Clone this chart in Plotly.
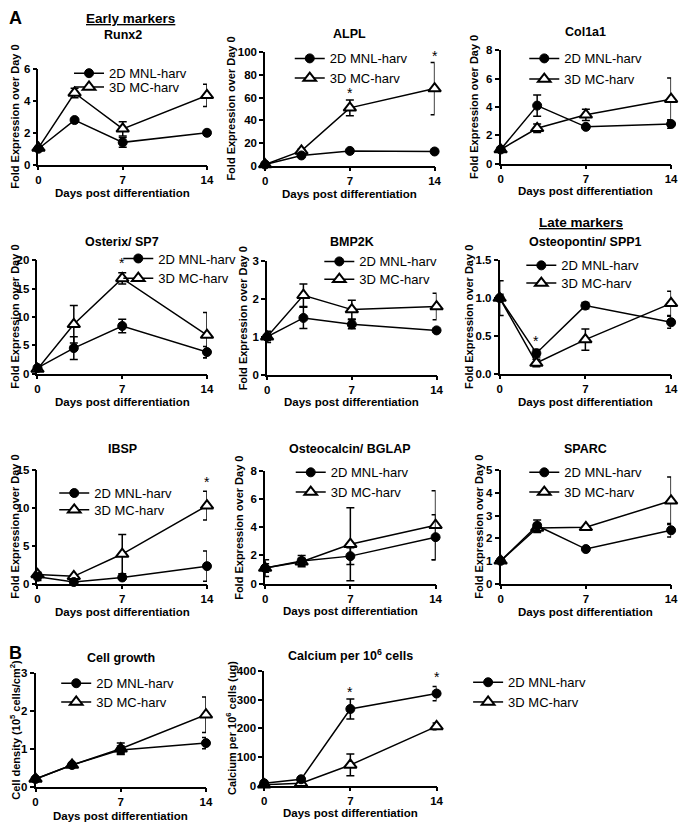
import plotly.graph_objects as go

W, H = 685, 829
FONT = "Liberation Sans, Arial, sans-serif"

days = [0, 3, 7, 14]
series_names = ["2D MNL-harv", "3D MC-harv"]

# ---- data (mean, error) ----
runx2_2d = [1.0, 2.8, 1.4, 2.0]
runx2_2d_err = [0.1, 0.08, 0.3, 0.08]
runx2_3d = [1.05, 4.5, 2.25, 4.35]
runx2_3d_err = [0.1, 0.3, 0.45, 0.7]

alpl_2d = [1, 9, 13, 12.5]
alpl_2d_err = [0.5, 1.0, 1.0, 1.0]
alpl_3d = [1, 13, 51, 68]
alpl_3d_err = [0.5, 1.5, 7, 23]

col1a1_2d = [1.0, 4.1, 2.6, 2.8]
col1a1_2d_err = [0.1, 0.75, 0.1, 0.3]
col1a1_3d = [1.0, 2.5, 3.45, 4.55]
col1a1_3d_err = [0.1, 0.3, 0.4, 1.5]

sp7_2d = [1.0, 4.5, 8.4, 3.8]
sp7_2d_err = [0.3, 2.0, 1.2, 1.0]
sp7_3d = [0.8, 8.7, 16.8, 6.8]
sp7_3d_err = [0.3, 3.3, 1.0, 4.0]

bmp2k_2d = [1.0, 1.5, 1.33, 1.17]
bmp2k_2d_err = [0.1, 0.28, 0.12, 0.03]
bmp2k_3d = [1.0, 2.1, 1.72, 1.8]
bmp2k_3d_err = [0.15, 0.3, 0.25, 0.35]

spp1_2d = [1.0, 0.27, 0.9, 0.68]
spp1_2d_err = [0.23, 0.05, 0.04, 0.08]
spp1_3d = [1.0, 0.14, 0.45, 0.93]
spp1_3d_err = [0.05, 0.05, 0.14, 0.16]

ibsp_2d = [0.9, 0.2, 0.8, 2.3]
ibsp_2d_err = [0.5, 0.1, 0.2, 2.0]
ibsp_3d = [1.2, 0.95, 3.9, 10.3]
ibsp_3d_err = [0.3, 0.1, 2.6, 1.9]

bglap_2d = [1.1, 1.6, 1.95, 3.3]
bglap_2d_err = [0.6, 0.4, 0.6, 1.6]
bglap_3d = [1.1, 1.55, 2.8, 4.15]
bglap_3d_err = [0.3, 0.25, 2.6, 2.45]

sparc_2d = [1.0, 2.55, 1.52, 2.35]
sparc_2d_err = [0.05, 0.25, 0.05, 0.3]
sparc_3d = [1.0, 2.45, 2.48, 3.65]
sparc_3d_err = [0.05, 0.2, 0.05, 1.05]

growth_2d = [0.2, 0.57, 0.97, 1.15]
growth_2d_err = [0.03, 0.03, 0.1, 0.15]
growth_3d = [0.2, 0.57, 1.0, 1.9]
growth_3d_err = [0.03, 0.03, 0.15, 0.47]

calcium_2d = [8, 22, 268, 322]
calcium_2d_err = [3, 5, 35, 25]
calcium_3d = [3, 8, 72, 207]
calcium_3d_err = [2, 3, 38, 12]

titles = ["Runx2", "ALPL", "Col1a1", "Osterix/ SP7", "BMP2K", "Osteopontin/ SPP1",
          "IBSP", "Osteocalcin/ BGLAP", "SPARC", "Cell growth",
          "Calcium per 10<sup>6</sup> cells"]
fold_label = "Fold Expression over Day 0"
ytitles = [fold_label] * 9 + ["Cell density (10<sup>5</sup> cells/cm<sup>2</sup>)",
                              "Calcium per 10<sup>6</sup> cells (ug)"]
xtitle = "Days post differentiation"

y_ranges = [6, 100, 8, 20, 3, 1.5, 15, 8, 5, 3, 400]
y_dticks = [2, 20, 2, 5, 1, 0.5, 5, 2, 1, 1, 100]
y_formats = ["d", "d", "d", "d", "d", ".1f", "d", "d", "d", "d", "d"]

data2d = [(runx2_2d, runx2_2d_err), (alpl_2d, alpl_2d_err), (col1a1_2d, col1a1_2d_err),
          (sp7_2d, sp7_2d_err), (bmp2k_2d, bmp2k_2d_err), (spp1_2d, spp1_2d_err),
          (ibsp_2d, ibsp_2d_err), (bglap_2d, bglap_2d_err), (sparc_2d, sparc_2d_err),
          (growth_2d, growth_2d_err), (calcium_2d, calcium_2d_err)]
data3d = [(runx2_3d, runx2_3d_err), (alpl_3d, alpl_3d_err), (col1a1_3d, col1a1_3d_err),
          (sp7_3d, sp7_3d_err), (bmp2k_3d, bmp2k_3d_err), (spp1_3d, spp1_3d_err),
          (ibsp_3d, ibsp_3d_err), (bglap_3d, bglap_3d_err), (sparc_3d, sparc_3d_err),
          (growth_3d, growth_3d_err), (calcium_3d, calcium_3d_err)]

# significance markers: (panel index, day, y value)
stars = [(0, 14, 6.5), (1, 7, 64), (1, 14, 97), (3, 7, 19.5), (5, 3, 0.43),
         (6, 14, 13.4), (10, 7, 328), (10, 14, 379)]

# ---- layout geometry in pixels ----
# (x_left, x_right, y_top, y_bottom)
boxes = [(36, 207, 64, 161), (266, 438, 47, 162), (505, 678, 45, 160),
         (35, 207, 258, 373), (268, 440, 259, 374), (504, 678, 258, 373),
         (35, 207, 471, 586), (266, 439, 472, 586), (505, 678, 471, 586),
         (33, 206, 677, 792), (265, 440, 675, 791)]
title_y = [29, 28, 26, 239, 239, 239, 450, 450, 450, 662, 659]
xtitle_y = [190, 191, 188, 402, 402, 402, 615, 614, 615, 822, 819]
ytitle_x = [12, 231, 478, 12, 243, 473, 12, 240, 483, 12, 232]
# legend rows: marker centre x, row centre y (2D row, 3D row)
legend_pos = [(88, 67, 81), (312, 52, 72), (550, 52, 73), (138, 255, 275),
              (342, 258, 276), (547, 262, 280), (73, 493, 510), (313, 472, 492),
              (550, 472, 492), (75, 686, 705), (493, 685, 705)]


def px(x):
    return x / W


def py(y):
    return 1 - y / H


fig = go.Figure()
layout = dict(width=W, height=H, margin=dict(l=0, r=0, t=0, b=0),
              paper_bgcolor="white", plot_bgcolor="white",
              font=dict(family=FONT, color="black"), showlegend=True)
annotations = []
legend_count = 0


def add_legend(mx, my):
    global legend_count
    legend_count += 1
    name = "legend" if legend_count == 1 else "legend%d" % legend_count
    layout[name] = dict(x=px(mx - 21), y=py(my - 14), xanchor="left", yanchor="top",
                        bgcolor="rgba(0,0,0,0)", borderwidth=0, itemwidth=30,
                        tracegroupgap=0,
                        font=dict(family=FONT, size=13, color="black"))
    return name


for i in range(11):
    n = i + 1
    sfx = "" if n == 1 else str(n)
    x0, x1, yt, yb = boxes[i]
    ax = dict(domain=[px(x0), px(x1)], range=[0, 14], tickvals=[0, 7, 14],
              showline=True, linecolor="black", linewidth=1.6, ticks="outside",
              ticklen=4, tickwidth=1.5, tickcolor="black", showgrid=False,
              zeroline=False, anchor="y" + sfx,
              tickfont=dict(family=FONT, size=11.5, color="black", weight="bold"))
    ay = dict(domain=[py(yb), py(yt)], range=[0, y_ranges[i]], dtick=y_dticks[i],
              tick0=0, tickformat=y_formats[i],
              showline=True, linecolor="black", linewidth=1.6, ticks="outside",
              ticklen=4, tickwidth=1.5, tickcolor="black", showgrid=False,
              zeroline=False, anchor="x" + sfx,
              tickfont=dict(family=FONT, size=11.5, color="black", weight="bold"))
    layout["xaxis" + sfx] = ax
    layout["yaxis" + sfx] = ay
    mx, my2, my3 = legend_pos[i]
    lg2 = add_legend(mx, my2)
    lg3 = add_legend(mx, my3)

    v3, e3 = data3d[i]
    fig.add_trace(go.Scatter(
        x=days, y=v3, mode="lines+markers", name=series_names[1],
        xaxis="x" + sfx, yaxis="y" + sfx, legend=lg3,
        cliponaxis=False,
        line=dict(color="black", width=1.5),
        marker=dict(symbol="triangle-up", size=11, color="white",
                    line=dict(color="black", width=2)),
        error_y=dict(type="data", array=e3, color="black", thickness=1.5, width=4)))
    v2, e2 = data2d[i]
    fig.add_trace(go.Scatter(
        x=days, y=v2, mode="lines+markers", name=series_names[0],
        xaxis="x" + sfx, yaxis="y" + sfx, legend=lg2,
        cliponaxis=False,
        line=dict(color="black", width=1.5),
        marker=dict(symbol="circle", size=9, color="black",
                    line=dict(color="black", width=1)),
        error_y=dict(type="data", array=e2, color="black", thickness=1.5, width=4)))

    cx = (x0 + x1) / 2
    annotations.append(dict(text="<b>%s</b>" % titles[i], x=px(cx), y=py(title_y[i]),
                            xref="paper", yref="paper", showarrow=False,
                            xanchor="center", yanchor="middle",
                            font=dict(family=FONT, size=12.5, color="black")))
    annotations.append(dict(text="<b>%s</b>" % xtitle, x=px(cx), y=py(xtitle_y[i]),
                            xref="paper", yref="paper", showarrow=False,
                            xanchor="center", yanchor="middle",
                            font=dict(family=FONT, size=11.5, color="black")))
    annotations.append(dict(text="<b>%s</b>" % ytitles[i], x=px(ytitle_x[i]),
                            y=py((yt + yb) / 2), xref="paper", yref="paper",
                            showarrow=False, textangle=-90,
                            xanchor="center", yanchor="middle",
                            font=dict(family=FONT, size=11, color="black")))

for (pi, d, yv) in stars:
    sfx = "" if pi == 0 else str(pi + 1)
    annotations.append(dict(text="*", x=d, y=yv, xref="x" + sfx, yref="y" + sfx,
                            showarrow=False, xanchor="center", yanchor="middle",
                            font=dict(family=FONT, size=14, color="black")))

# section labels
annotations += [
    dict(text="<b>A</b>", x=px(4), y=py(12), xref="paper", yref="paper",
         showarrow=False, xanchor="left", yanchor="middle",
         font=dict(family=FONT, size=18, color="black")),
    dict(text="<b>B</b>", x=px(4), y=py(657), xref="paper", yref="paper",
         showarrow=False, xanchor="left", yanchor="middle",
         font=dict(family=FONT, size=18, color="black")),
    dict(text="<b><u>Early markers</u></b>", x=px(129), y=py(13), xref="paper",
         yref="paper", showarrow=False, xanchor="center", yanchor="middle",
         font=dict(family=FONT, size=13.5, color="black")),
    dict(text="<b><u>Late markers</u></b>", x=px(587), y=py(220), xref="paper",
         yref="paper", showarrow=False, xanchor="center", yanchor="middle",
         font=dict(family=FONT, size=13.5, color="black")),
]
layout["annotations"] = annotations
fig.update_layout(**layout)
fig.write_html("out.html",
               config={"displayModeBar": False},
               post_script="document.body.style.margin='0';"
                           "document.body.style.overflow='hidden';")
